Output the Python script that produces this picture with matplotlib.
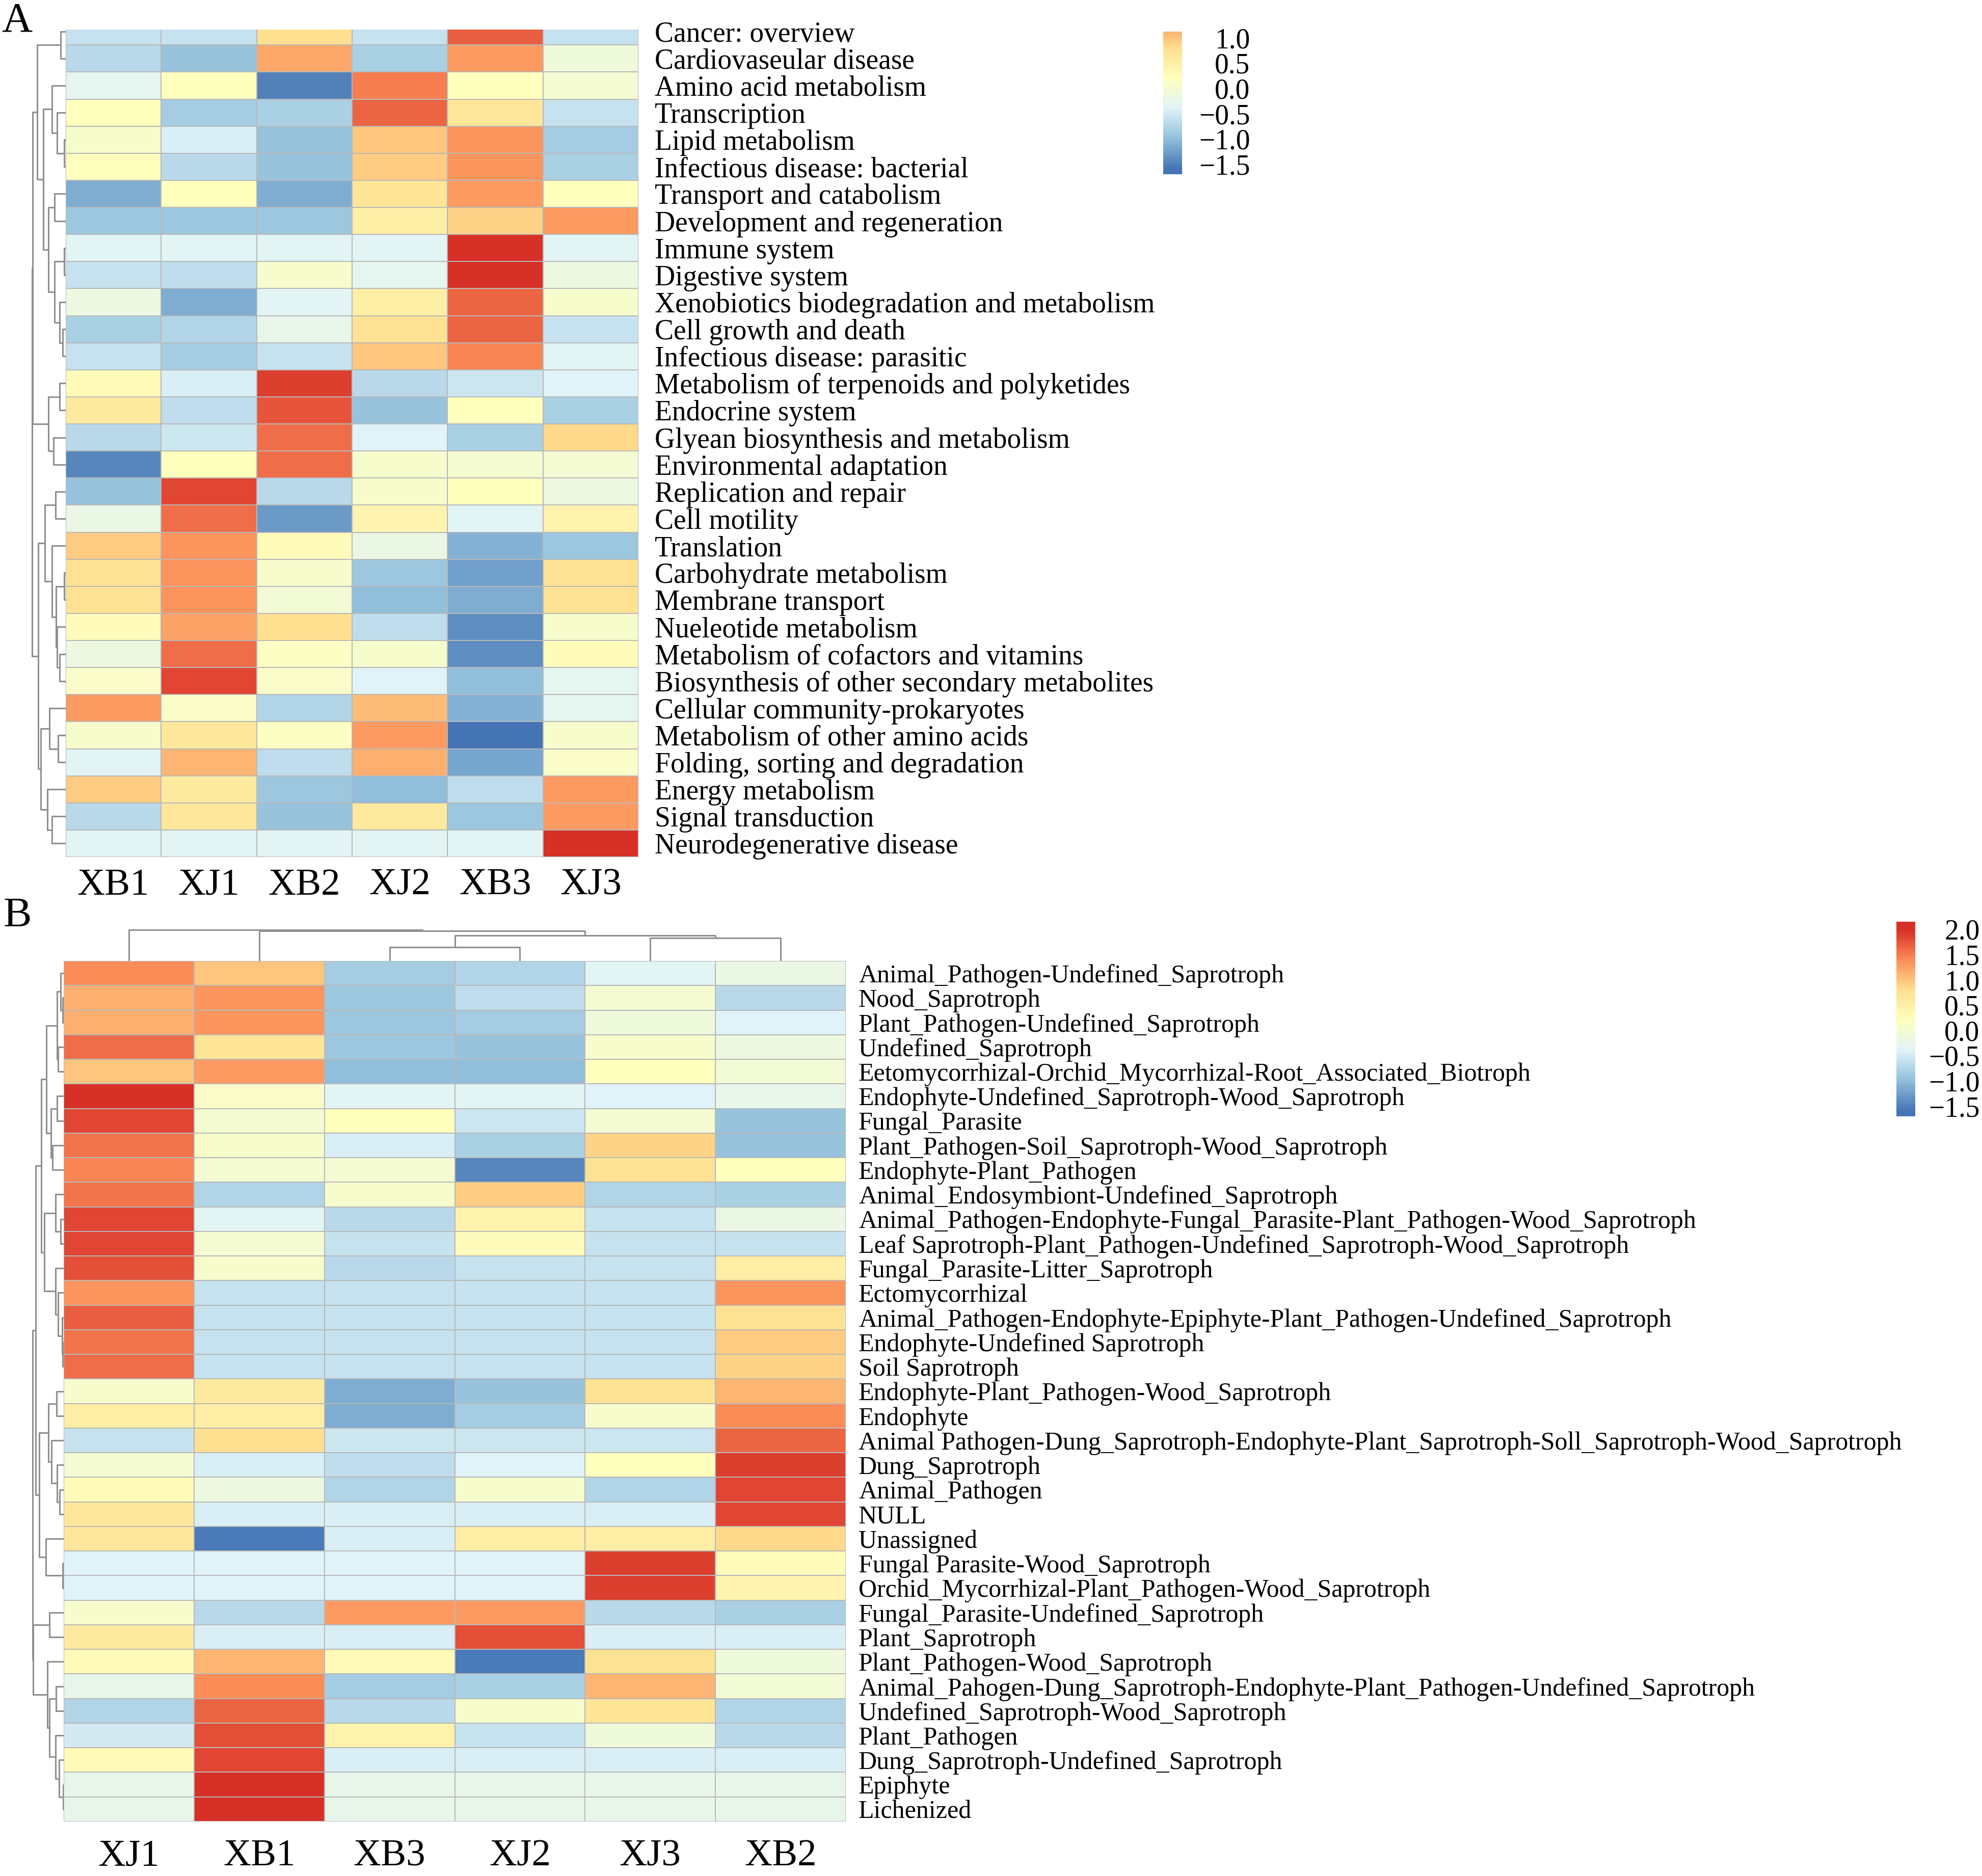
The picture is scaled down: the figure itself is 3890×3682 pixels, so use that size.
import numpy as np
import matplotlib
matplotlib.use('Agg')
import matplotlib.pyplot as plt
from matplotlib.colors import LinearSegmentedColormap, ListedColormap, Normalize
from matplotlib.cm import ScalarMappable

plt.rcParams['font.family'] = ['Liberation Serif', 'DejaVu Serif']

# ---- panel A: KEGG pathways ----
colsA = ['XB1', 'XJ1', 'XB2', 'XJ2', 'XB3', 'XJ3']
rowsA = ['Cancer: overview', 'Cardiovaseular disease', 'Amino acid metabolism',
         'Transcription', 'Lipid metabolism', 'Infectious disease: bacterial',
         'Transport and catabolism', 'Development and regeneration', 'Immune system',
         'Digestive system', 'Xenobiotics biodegradation and metabolism',
         'Cell growth and death', 'Infectious disease: parasitic',
         'Metabolism of terpenoids and polyketides', 'Endocrine system',
         'Glyean biosynthesis and metabolism', 'Environmental adaptation',
         'Replication and repair', 'Cell motility', 'Translation',
         'Carbohydrate metabolism', 'Membrane transport', 'Nueleotide metabolism',
         'Metabolism of cofactors and vitamins',
         'Biosynthesis of other secondary metabolites',
         'Cellular community-prokaryotes', 'Metabolism of other amino acids',
         'Folding, sorting and degradation', 'Energy metabolism',
         'Signal transduction', 'Neurodegenerative disease']
valsA = [
    [-0.6, -0.6, 0.8, -0.6, 1.7, -0.6],
    [-0.7, -0.95, 1.2, -0.8, 1.3, -0.1],
    [-0.3, 0.2, -1.5, 1.5, 0.2, 0.0],
    [0.2, -0.85, -0.8, 1.65, 0.65, -0.6],
    [0.05, -0.45, -0.95, 1.0, 1.35, -0.85],
    [0.2, -0.7, -0.95, 0.95, 1.35, -0.8],
    [-1.15, 0.2, -1.15, 0.7, 1.3, 0.2],
    [-0.9, -0.9, -0.9, 0.5, 0.9, 1.3],
    [-0.35, -0.35, -0.35, -0.35, 2.0, -0.35],
    [-0.6, -0.65, 0.05, -0.3, 2.0, -0.15],
    [-0.15, -1.15, -0.35, 0.5, 1.65, 0.05],
    [-0.8, -0.75, -0.25, 0.75, 1.65, -0.6],
    [-0.6, -0.85, -0.6, 1.0, 1.45, -0.35],
    [0.3, -0.45, 1.9, -0.7, -0.55, -0.4],
    [0.6, -0.65, 1.75, -0.95, 0.2, -0.8],
    [-0.7, -0.55, 1.6, -0.4, -0.8, 0.85],
    [-1.45, 0.2, 1.6, 0.05, 0.0, 0.0],
    [-0.95, 1.85, -0.7, 0.05, 0.2, -0.15],
    [-0.2, 1.6, -1.3, 0.4, -0.35, 0.45],
    [0.95, 1.35, 0.25, -0.2, -1.1, -0.9],
    [0.75, 1.35, 0.05, -0.9, -1.25, 0.75],
    [0.75, 1.35, -0.05, -1.0, -1.15, 0.75],
    [0.25, 1.25, 0.8, -0.65, -1.4, 0.05],
    [-0.15, 1.6, 0.15, 0.05, -1.4, 0.25],
    [0.1, 1.85, 0.1, -0.4, -1.0, -0.3],
    [1.3, 0.1, -0.75, 1.05, -1.1, -0.3],
    [0.05, 0.65, 0.15, 1.3, -1.6, 0.05],
    [-0.35, 1.1, -0.65, 1.15, -1.2, 0.1],
    [0.95, 0.6, -0.9, -1.0, -0.65, 1.3],
    [-0.7, 0.65, -0.95, 0.6, -0.9, 1.3],
    [-0.35, -0.35, -0.35, -0.35, -0.35, 2.0],
]
# row tree: (left, right, height), leaves are row indices
treeA = (((0, 1, 30),
          ((2, (3, (4, 5, 8), 50), 80),
           ((6, 7, 65), ((8, 9, 8), (10, (11, 12, 18), 35), 65), 100), 130), 165),
         ((13, 14, 35), (15, 16, 70), 100), 190)
treeA = (treeA,
         (((17, 18, 58), (19, ((20, 21, 10), (22, (23, 24, 35), 50), 55), 80), 120),
          ((25, (26, 27, 43), 95), (28, (29, 30, 80), 105), 145), 160), 195)

# ---- panel B: FUNGuild ----
colsB = ['XJ1', 'XB1', 'XB3', 'XJ2', 'XJ3', 'XB2']
rowsB = ['Animal_Pathogen-Undefined_Saprotroph', 'Nood_Saprotroph',
         'Plant_Pathogen-Undefined_Saprotroph', 'Undefined_Saprotroph',
         'Eetomycorrhizal-Orchid_Mycorrhizal-Root_Associated_Biotroph',
         'Endophyte-Undefined_Saprotroph-Wood_Saprotroph', 'Fungal_Parasite',
         'Plant_Pathogen-Soil_Saprotroph-Wood_Saprotroph', 'Endophyte-Plant_Pathogen',
         'Animal_Endosymbiont-Undefined_Saprotroph',
         'Animal_Pathogen-Endophyte-Fungal_Parasite-Plant_Pathogen-Wood_Saprotroph',
         'Leaf Saprotroph-Plant_Pathogen-Undefined_Saprotroph-Wood_Saprotroph',
         'Fungal_Parasite-Litter_Saprotroph', 'Ectomycorrhizal',
         'Animal_Pathogen-Endophyte-Epiphyte-Plant_Pathogen-Undefined_Saprotroph',
         'Endophyte-Undefined Saprotroph', 'Soil Saprotroph',
         'Endophyte-Plant_Pathogen-Wood_Saprotroph', 'Endophyte',
         'Animal Pathogen-Dung_Saprotroph-Endophyte-Plant_Saprotroph-Soll_Saprotroph-Wood_Saprotroph',
         'Dung_Saprotroph', 'Animal_Pathogen', 'NULL', 'Unassigned',
         'Fungal Parasite-Wood_Saprotroph',
         'Orchid_Mycorrhizal-Plant_Pathogen-Wood_Saprotroph',
         'Fungal_Parasite-Undefined_Saprotroph', 'Plant_Saprotroph',
         'Plant_Pathogen-Wood_Saprotroph',
         'Animal_Pahogen-Dung_Saprotroph-Endophyte-Plant_Pathogen-Undefined_Saprotroph',
         'Undefined_Saprotroph-Wood_Saprotroph', 'Plant_Pathogen',
         'Dung_Saprotroph-Undefined_Saprotroph', 'Epiphyte', 'Lichenized']
valsB = [
    [1.4, 1.0, -0.85, -0.75, -0.35, -0.2],
    [1.15, 1.35, -0.9, -0.65, 0.0, -0.7],
    [1.15, 1.35, -0.9, -0.85, -0.1, -0.4],
    [1.6, 0.7, -0.9, -0.95, 0.05, -0.15],
    [1.0, 1.3, -1.0, -1.0, 0.2, -0.05],
    [2.0, 0.1, -0.35, -0.35, -0.4, -0.25],
    [1.85, 0.0, 0.2, -0.55, 0.0, -0.95],
    [1.55, 0.05, -0.45, -0.8, 0.9, -0.95],
    [1.45, 0.0, 0.0, -1.45, 0.75, 0.2],
    [1.55, -0.75, 0.05, 0.95, -0.75, -0.8],
    [1.85, -0.35, -0.7, 0.45, -0.6, -0.2],
    [1.85, 0.0, -0.6, 0.25, -0.6, -0.6],
    [1.8, 0.05, -0.7, -0.6, -0.6, 0.55],
    [1.35, -0.6, -0.6, -0.6, -0.6, 1.35],
    [1.7, -0.6, -0.6, -0.6, -0.6, 0.75],
    [1.55, -0.6, -0.6, -0.6, -0.6, 0.95],
    [1.6, -0.6, -0.6, -0.6, -0.6, 0.9],
    [0.05, 0.6, -1.15, -0.95, 0.75, 1.1],
    [0.55, 0.55, -1.15, -0.85, 0.05, 1.4],
    [-0.6, 0.8, -0.55, -0.55, -0.55, 1.65],
    [0.0, -0.45, -0.65, -0.4, 0.2, 1.9],
    [0.3, -0.15, -0.75, 0.05, -0.75, 1.85],
    [0.65, -0.45, -0.45, -0.45, -0.45, 1.85],
    [0.65, -1.55, -0.45, 0.55, 0.55, 0.85],
    [-0.4, -0.4, -0.4, -0.4, 1.9, 0.25],
    [-0.4, -0.4, -0.4, -0.4, 1.9, 0.4],
    [0.05, -0.7, 1.3, 1.3, -0.7, -0.8],
    [0.6, -0.45, -0.45, 1.8, -0.45, -0.45],
    [0.3, 1.1, 0.3, -1.55, 0.75, -0.1],
    [-0.25, 1.4, -0.85, -0.8, 1.1, -0.05],
    [-0.75, 1.65, -0.7, 0.05, 0.7, -0.75],
    [-0.5, 1.8, 0.45, -0.6, -0.1, -0.7],
    [0.3, 1.85, -0.45, -0.45, -0.45, -0.45],
    [-0.25, 2.0, -0.25, -0.25, -0.25, -0.25],
    [-0.25, 2.0, -0.25, -0.25, -0.25, -0.25],
]
treeB_top = ((((0, (1, 2, 7), 17), (3, 4, 32), 37), ((5, 6, 37), (7, 8, 62), 72), 97),
             ((9, (10, 11, 17), 47), (12, (13, (14, (15, 16, 5), 10), 32), 47), 110), 127)
treeB_mid = (((17, 18, 40), (19, (20, (21, 22, 22), 37), 70), 87), (23, (24, 25, 7), 102), 137)
treeB_bot = ((26, 27, 82),
             (28, ((29, 30, 44), (31, (32, (33, 34, 3), 25), 45), 82), 92), 174)
treeB = ((treeB_top, treeB_mid, 160), treeB_bot, 177)
treeB_cols = (0, (1, ((2, 3, 80), (4, 5, 133), 150), 177), 183)

# colours: pheatmap default rev(RdYlBu, 7)
pal = ['#4575B4', '#91BFDB', '#E0F3F8', '#FFFFBF', '#FEE090', '#FC8D59', '#D73027']
cmap = LinearSegmentedColormap.from_list('rdylbu7', pal)
norm = Normalize(-1.6, 2.0)

W, H = 3890, 3682
fig = plt.figure(figsize=(W / 100, H / 100), dpi=100)


def box(x0, y0, x1, y1):
    return [x0 / W, 1 - y1 / H, (x1 - x0) / W, (y1 - y0) / H]


def heat(ax, vals, rows, cols, rfs, rpad, cfs, cpad, ytop=0):
    v = np.array(vals)
    ax.pcolormesh(v, cmap=cmap, norm=norm, edgecolors='#b8b8b8', linewidth=1.2)
    ax.set_xlim(0, v.shape[1])
    ax.set_ylim(v.shape[0], ytop)
    ax.set_yticks(np.arange(len(rows)) + 0.5)
    ax.set_yticklabels(rows, fontsize=rfs)
    ax.yaxis.tick_right()
    ax.set_xticks(np.arange(len(cols)) + 0.5)
    ax.set_xticklabels(cols, fontsize=cfs)
    ax.tick_params(axis='y', length=0, pad=rpad)
    ax.tick_params(axis='x', length=0, pad=cpad)
    for s in ax.spines.values():
        s.set_visible(False)


def tree_lines(node, out):
    if isinstance(node, int):
        return node + 0.5, 0
    l, r, h = node
    pl, hl = tree_lines(l, out)
    pr, hr = tree_lines(r, out)
    out.append(([pl, pl, pr, pr], [hl, h, h, hr]))
    return (pl + pr) / 2, h


def dendro(ax, tree, n, rows=True, ytop=0):
    segs = []
    _, top = tree_lines(tree, segs)
    for p, h in segs:
        if rows:
            ax.plot(h, p, color='#8f8f8f', lw=2.2, solid_capstyle='butt')
        else:
            ax.plot(p, h, color='#8f8f8f', lw=2.2, solid_capstyle='butt')
    if rows:
        ax.set_ylim(n, ytop)
        ax.set_xlim(top * 1.01, 0)
    else:
        ax.set_xlim(0, n)
        ax.set_ylim(0, top * 1.01)
    ax.axis('off')


def cbar(rect, lo, hi, ticks, pad):
    cax = fig.add_axes(rect)
    sub = ListedColormap(cmap(norm(np.linspace(lo, hi, 256))))
    cb = fig.colorbar(ScalarMappable(norm=Normalize(lo, hi), cmap=sub), cax=cax, ticks=ticks)
    cb.outline.set_visible(False)
    cax.set_yticklabels([f'{t:.1f}'.replace('-', '\u2212') for t in ticks])
    cax.tick_params(length=0, labelsize=40, pad=pad)
    for t in cax.get_yticklabels():
        t.set_ha('right')


# panel A (top row cut part-way, as in the source figure)
cutA = 0.43
axA = fig.add_axes(box(129, 58, 1253, 1682))
heat(axA, valsA, rowsA, colsA, 40, 23, 54, 16, ytop=cutA)
dA = fig.add_axes(box(62, 58, 129, 1682))
dendro(dA, treeA, len(rowsA), ytop=cutA)
cbar(box(2283, 62, 2320, 342), -1.7, 1.125, [-1.5, -1.0, -0.5, 0.0, 0.5, 1.0], 96)
fig.text(3 / W, 1 - 4 / H, 'A', fontsize=60, va='top', ha='left')

# panel B
axB = fig.add_axes(box(125, 1886, 1660, 3575))
heat(axB, valsB, rowsB, colsB, 36, 18, 54, 25)
dB = fig.add_axes(box(63, 1886, 125, 3575))
dendro(dB, treeB, len(rowsB))
dC = fig.add_axes(box(125, 1824, 1660, 1886))
dendro(dC, treeB_cols, len(colsB), rows=False)
cbar(box(3722, 1809, 3759, 2191), -1.7, 2.15, [-1.5, -1.0, -0.5, 0.0, 0.5, 1.0, 1.5, 2.0], 91)
fig.text(7 / W, 1 - 1760 / H, 'B', fontsize=60, va='top', ha='left')

fig.savefig('out.png', dpi=100)
